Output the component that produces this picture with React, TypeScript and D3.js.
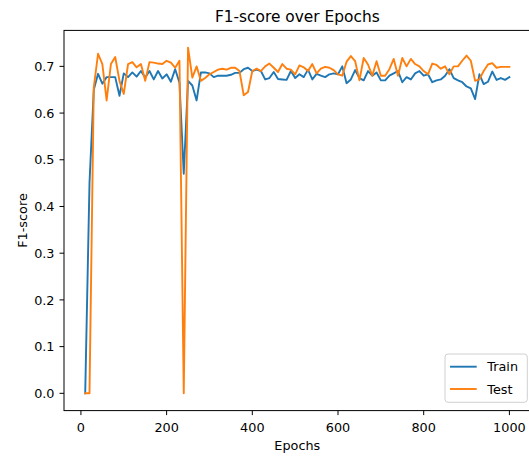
import React from "react";
import * as d3 from "d3";

const epochs = [
  10, 20, 30, 40, 50, 60, 70, 80, 90, 100,
  110, 120, 130, 140, 150, 160, 170, 180, 190, 200,
  210, 220, 230, 240, 250, 260, 270, 280, 290, 300,
  310, 320, 330, 340, 350, 360, 370, 380, 390, 400,
  410, 420, 430, 440, 450, 460, 470, 480, 490, 500,
  510, 520, 530, 540, 550, 560, 570, 580, 590, 600,
  610, 620, 630, 640, 650, 660, 670, 680, 690, 700,
  710, 720, 730, 740, 750, 760, 770, 780, 790, 800,
  810, 820, 830, 840, 850, 860, 870, 880, 890, 900,
  910, 920, 930, 940, 950, 960, 970, 980, 990, 1000,
];

const trainF1 = [
  0.0, 0.45, 0.65, 0.684, 0.663, 0.677, 0.677, 0.677, 0.637, 0.685,
  0.677, 0.687, 0.678, 0.69, 0.676, 0.69, 0.672, 0.69, 0.674, 0.683,
  0.667, 0.694, 0.665, 0.47, 0.669, 0.659, 0.627, 0.687, 0.687, 0.685,
  0.677, 0.68, 0.68, 0.68, 0.682, 0.686, 0.686, 0.694, 0.697, 0.69,
  0.693, 0.69, 0.672, 0.675, 0.688, 0.673, 0.672, 0.671, 0.69, 0.675,
  0.683, 0.677, 0.693, 0.672, 0.684, 0.68, 0.677, 0.683, 0.685, 0.683,
  0.7, 0.664, 0.672, 0.692, 0.675, 0.67, 0.69, 0.68, 0.687, 0.67,
  0.67, 0.68, 0.685, 0.69, 0.666, 0.677, 0.672, 0.685, 0.69, 0.68,
  0.683, 0.666, 0.67, 0.672, 0.68, 0.694, 0.675, 0.67, 0.666, 0.657,
  0.653, 0.63, 0.683, 0.662, 0.667, 0.689, 0.671, 0.675, 0.671, 0.677,
];

const testF1 = [
  0.0, 0.0, 0.655, 0.727, 0.705, 0.627, 0.705, 0.72, 0.669, 0.641,
  0.705, 0.709, 0.698, 0.705, 0.669, 0.709, 0.708, 0.706, 0.705, 0.712,
  0.708, 0.697, 0.712, 0.0, 0.74, 0.676, 0.7, 0.669, 0.675, 0.683,
  0.688, 0.693, 0.695, 0.693, 0.697, 0.697, 0.69, 0.638, 0.645, 0.69,
  0.695, 0.69, 0.7, 0.706, 0.697, 0.688, 0.705, 0.695, 0.693, 0.683,
  0.702, 0.698, 0.69, 0.705, 0.685, 0.695, 0.699, 0.697, 0.692, 0.683,
  0.68, 0.71, 0.722, 0.711, 0.67, 0.718, 0.704, 0.68, 0.711, 0.68,
  0.68, 0.694, 0.716, 0.68, 0.718, 0.7, 0.716, 0.705, 0.7, 0.69,
  0.683, 0.706, 0.703, 0.695, 0.7, 0.683, 0.7, 0.7, 0.712, 0.723,
  0.712, 0.669, 0.672, 0.69, 0.704, 0.707, 0.697, 0.699, 0.699, 0.699,
];

const xTicks = [0, 200, 400, 600, 800, 1000];
const yTicks = [0.0, 0.1, 0.2, 0.3, 0.4, 0.5, 0.6, 0.7];
const seriesNames = ["Train", "Test"];
const seriesColors = ["#1f77b4", "#ff7f0e"];

const W = 529;
const H = 456;
const left = 64;
const right = 530.6;
const top = 30.4;
const bottom = 410.6;
const FONT = "DejaVu Sans, sans-serif";

export default function App() {
  const [xMin, xMax] = d3.extent(epochs) as [number, number];
  const xPad = (xMax - xMin) * 0.05;
  const allY = [...trainF1, ...testF1];
  const [yMin, yMax] = d3.extent(allY) as [number, number];
  const yPad = (yMax - yMin) * 0.05;

  const x = d3.scaleLinear().domain([xMin - xPad, xMax + xPad]).range([left, right]);
  const y = d3.scaleLinear().domain([yMin - yPad, yMax + yPad]).range([bottom, top]);

  const line = d3
    .line<number>()
    .x((_, i) => x(epochs[i]))
    .y((d) => y(d));

  const series = [trainF1, testF1];

  const legX = 445;
  const legY = 354;
  const legW = 82.3;
  const legH = 48.3;

  return (
    <svg
      width={W}
      height={H}
      style={{ position: "absolute", left: 0, top: 0, background: "#fff" }}
      fontFamily={FONT}
    >
      <rect x={0} y={0} width={W} height={H} fill="#fff" />
      <text x={(left + right) / 2} y={22} textAnchor="middle" fontSize={15.4} fill="#000">
        F1-score over Epochs
      </text>

      <g>
        {series.map((s, k) => (
          <path
            key={k}
            d={line(s) || ""}
            fill="none"
            stroke={seriesColors[k]}
            strokeWidth={1.9}
            strokeLinejoin="round"
            strokeLinecap="square"
          />
        ))}
      </g>

      {/* spines */}
      <rect x={left} y={top} width={right - left} height={bottom - top} fill="none" stroke="#000" strokeWidth={1} />

      {/* x ticks */}
      {xTicks.map((t) => (
        <g key={t} transform={`translate(${x(t)},${bottom})`}>
          <line y1={0} y2={4.5} stroke="#000" strokeWidth={1} />
          <text y={21.8} textAnchor="middle" fontSize={12.8} fill="#000">
            {t}
          </text>
        </g>
      ))}
      <text x={(left + right) / 2} y={450} textAnchor="middle" fontSize={12.8} fill="#000">
        Epochs
      </text>

      {/* y ticks */}
      {yTicks.map((t) => (
        <g key={t} transform={`translate(${left},${y(t)})`}>
          <line x1={0} x2={-4.5} stroke="#000" strokeWidth={1} />
          <text x={-9.5} textAnchor="end" fontSize={12.8} fill="#000" dy="0.36em">
            {t.toFixed(1)}
          </text>
        </g>
      ))}
      <text
        transform={`translate(27,${(top + bottom) / 2}) rotate(-90)`}
        textAnchor="middle"
        fontSize={12.8}
        fill="#000"
      >
        F1-score
      </text>

      {/* legend */}
      <rect
        x={legX}
        y={legY}
        width={legW}
        height={legH}
        rx={3}
        ry={3}
        fill="#fff"
        fillOpacity={0.8}
        stroke="#d0d0d0"
        strokeWidth={1}
      />
      {seriesNames.map((n, k) => (
        <g key={n} transform={`translate(${legX + 5},${legY + 12.7 + k * 22.3})`}>
          <line x1={0} x2={26.7} y1={0} y2={0} stroke={seriesColors[k]} strokeWidth={1.9} />
          <text x={37.3} dy="0.36em" fontSize={12.8} fill="#000">
            {n}
          </text>
        </g>
      ))}
    </svg>
  );
}
